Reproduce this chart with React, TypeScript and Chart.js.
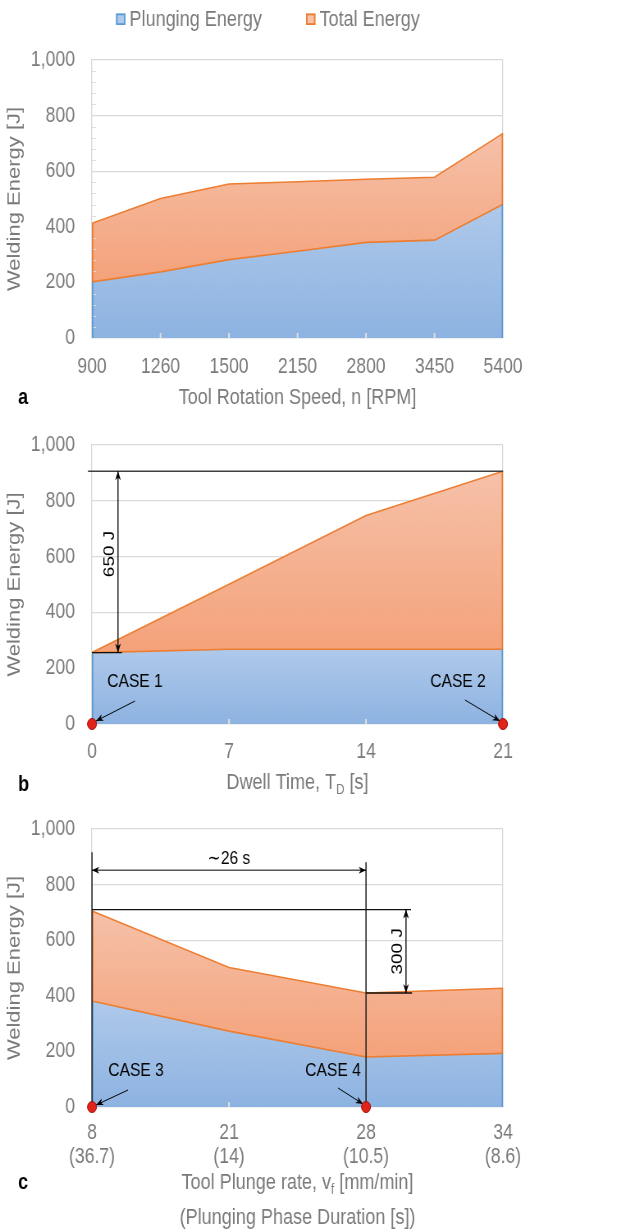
import { useEffect, useRef } from 'react';
import { Chart, registerables } from 'chart.js';

Chart.register(...registerables);

// (a) welding energy against tool rotation speed
const rotationSpeeds = ['900', '1260', '1500', '2150', '2800', '3450', '5400'];
const plungingEnergyA = [202, 238, 282, 312, 344, 352, 481];
const totalEnergyA = [413, 502, 554, 562, 571, 578, 736];

// (b) welding energy against dwell time
const dwellTimes = ['0', '7', '14', '21'];
const plungingEnergyB = [256, 268, 268, 268];
const totalEnergyB = [256, 501, 747, 906];
const caseMarkersB = [0, null, null, 0];

// (c) welding energy against tool plunge rate
const plungeRates = ['8', '21', '28', '34'];
const phaseDurations = ['(36.7)', '(14)', '(10.5)', '(8.6)'];
const plungingEnergyC = [381, 273, 180, 193];
const totalEnergyC = [705, 502, 410, 427];
const caseMarkersC = [0, null, 0, null];

// energy axis and dimension labels
const energyMin = 0;
const energyMax = 1000;
const energyStep = 200;
const energyMinorStep = 40;
const dwellEnergyGap = 650;
const plungeEnergyGap = 300;
const plungeDurationGap = '∼26 s';

const seriesNames = ['Plunging Energy', 'Total Energy'];

const BLUE_EDGE = '#5B9BD5';
const ORANGE_EDGE = '#ED7D31';
const BLUE_LIGHT = '#AFC9EA';
const BLUE_DARK = '#8DB3E1';
const ORANGE_LIGHT = '#F6C1A9';
const ORANGE_DARK = '#F4A27A';
const GRID = '#d9d9d9';
const TEXT_GRAY = '#7a7a7a';
const SANS = '"Liberation Sans", Arial, sans-serif';

// The figure is laid out on a wider canvas and condensed horizontally,
// which gives the narrow lettering of the printed figure.
const PAGE_W = 644;
const CANVAS_W = 785;
const SQUEEZE = PAGE_W / CANVAS_W;
const sx = (v: number) => v / SQUEEZE;

const PLOT_LEFT = sx(92);
const PLOT_RIGHT = sx(503);

type Seg = { t: string; sub?: boolean };

function drawText(
  ctx: CanvasRenderingContext2D,
  s: string,
  x: number,
  y: number,
  font: string,
  color: string,
  align: CanvasTextAlign = 'center',
  rotate = 0
) {
  ctx.save();
  ctx.translate(x, y);
  ctx.rotate(rotate);
  ctx.font = font;
  ctx.fillStyle = color;
  ctx.textAlign = align;
  ctx.textBaseline = 'middle';
  ctx.fillText(s, 0, 0);
  ctx.restore();
}

function drawRich(ctx: CanvasRenderingContext2D, segs: Seg[], cx: number, cy: number, size: number, color: string) {
  ctx.save();
  ctx.fillStyle = color;
  ctx.textBaseline = 'middle';
  ctx.textAlign = 'left';
  const fontOf = (s: Seg) => `${s.sub ? Math.round(size * 0.62) : size}px ${SANS}`;
  const widths = segs.map((s) => {
    ctx.font = fontOf(s);
    return ctx.measureText(s.t).width;
  });
  let x = cx - widths.reduce((a, b) => a + b, 0) / 2;
  segs.forEach((s, i) => {
    ctx.font = fontOf(s);
    ctx.fillText(s.t, x, cy + (s.sub ? size * 0.32 : 0));
    x += widths[i];
  });
  ctx.restore();
}

function drawLine(ctx: CanvasRenderingContext2D, x1: number, y1: number, x2: number, y2: number, color = '#000', w = 1) {
  ctx.save();
  ctx.strokeStyle = color;
  ctx.lineWidth = w;
  ctx.beginPath();
  ctx.moveTo(x1, y1);
  ctx.lineTo(x2, y2);
  ctx.stroke();
  ctx.restore();
}

function drawHead(ctx: CanvasRenderingContext2D, fx: number, fy: number, tx: number, ty: number) {
  const ang = Math.atan2(ty - fy, tx - fx);
  const len = 9;
  const half = 3.5;
  ctx.save();
  ctx.translate(tx, ty);
  ctx.rotate(ang);
  ctx.fillStyle = '#000';
  ctx.beginPath();
  ctx.moveTo(0, 0);
  ctx.lineTo(-len, -half);
  ctx.lineTo(-len * 0.7, 0);
  ctx.lineTo(-len, half);
  ctx.closePath();
  ctx.fill();
  ctx.restore();
}

function drawArrow(ctx: CanvasRenderingContext2D, x1: number, y1: number, x2: number, y2: number, both = false) {
  const vertical = Math.abs(x2 - x1) < 0.5;
  drawLine(ctx, x1, y1, x2, y2, '#000', vertical ? 1.3 : 1);
  drawHead(ctx, x1, y1, x2, y2);
  if (both) drawHead(ctx, x2, y2, x1, y1);
}

// vertical gradient spanning the band that a series fills
function bandFill(kind: 'plunging' | 'total') {
  return (c: any) => {
    const chart = c.chart;
    const y = chart.scales?.y;
    if (!chart.chartArea || !y) return kind === 'plunging' ? BLUE_DARK : ORANGE_DARK;
    const ds = chart.data.datasets;
    const plunging = ds[0].data as number[];
    const total = ds[1].data as number[];
    const hi = kind === 'plunging' ? Math.max(...plunging) : Math.max(...total);
    const lo = kind === 'plunging' ? 0 : Math.min(...plunging);
    const g = chart.ctx.createLinearGradient(0, y.getPixelForValue(hi), 0, y.getPixelForValue(lo));
    g.addColorStop(0, kind === 'plunging' ? BLUE_LIGHT : ORANGE_LIGHT);
    g.addColorStop(1, kind === 'plunging' ? BLUE_DARK : ORANGE_DARK);
    return g;
  };
}

type Panel = {
  labels: (string | string[])[];
  plunging: number[];
  total: number[];
  cases?: (number | null)[];
  height: number;
  plotTop: number;
  plotBottom: number;
  tickPadding: number;
  tickLineHeight?: number;
  letter: string;
  letterY: number;
  xTitle: Seg[];
  xTitleY: number;
  xTitle2?: string;
  xTitle2Y?: number;
  legend?: boolean;
  minorTicks?: boolean;
  annotate?: (chart: any) => void;
};

function drawDetails(chart: any, panel: Panel) {
  const { ctx, chartArea: a, scales } = chart;
  const x = scales.x;
  const y = scales.y;
  const n = chart.data.labels.length;
  ctx.save();
  // small inside tick marks on the category axis
  for (let i = 1; i < n - 1; i++) {
    const px = x.getPixelForValue(i);
    drawLine(ctx, px, a.bottom, px, a.bottom - 5, '#dedede', 2);
  }
  // minor tick marks on the energy axis
  if (panel.minorTicks) {
    for (let v = energyMin + energyMinorStep; v < energyMax; v += energyMinorStep) {
      if (v % energyStep === 0) continue;
      const py = Math.round(y.getPixelForValue(v)) + 0.5;
      drawLine(ctx, a.left, py, a.left + sx(4), py, '#dedede', 1);
    }
  }
  // outline of each band at both ends of the range
  const p = chart.data.datasets[0].data as number[];
  const t = chart.data.datasets[1].data as number[];
  for (const i of [0, n - 1]) {
    const px = x.getPixelForValue(i) + (i === 0 ? 0.8 : -0.8);
    drawLine(ctx, px, y.getPixelForValue(0), px, y.getPixelForValue(p[i]), BLUE_EDGE, 1.8);
    if (t[i] > p[i]) drawLine(ctx, px, y.getPixelForValue(p[i]), px, y.getPixelForValue(t[i]), ORANGE_EDGE, 1.8);
  }
  if (panel.annotate) panel.annotate(chart);
  ctx.restore();
}

function drawFurniture(chart: any, panel: Panel) {
  const { ctx, chartArea: a } = chart;
  const cx = (a.left + a.right) / 2;
  drawRich(ctx, panel.xTitle, cx, panel.xTitleY, 22, TEXT_GRAY);
  if (panel.xTitle2 && panel.xTitle2Y) drawRich(ctx, [{ t: panel.xTitle2 }], cx, panel.xTitle2Y, 22, TEXT_GRAY);
  drawText(ctx, panel.letter, sx(18), panel.letterY, `bold 22px ${SANS}`, '#000', 'left');
  if (panel.legend) {
    const items = [
      { x: sx(116), fill: BLUE_LIGHT, edge: BLUE_EDGE },
      { x: sx(306), fill: ORANGE_LIGHT, edge: ORANGE_EDGE },
    ];
    items.forEach((it, i) => {
      ctx.save();
      ctx.fillStyle = it.fill;
      ctx.strokeStyle = it.edge;
      ctx.lineWidth = 1.8;
      ctx.fillRect(it.x, 13.5, 11.5, 11.5);
      ctx.strokeRect(it.x + 0.9, 14.4, 9.7, 9.7);
      ctx.restore();
      drawText(ctx, chart.data.datasets[i].label, it.x + sx(13.5), 20, `22px ${SANS}`, TEXT_GRAY, 'left');
    });
  }
}

function buildConfig(panel: Panel): any {
  const datasets: any[] = [
    {
      label: seriesNames[0],
      data: panel.plunging,
      borderColor: ORANGE_EDGE,
      borderWidth: 1.6,
      backgroundColor: bandFill('plunging'),
      fill: 'origin',
      pointRadius: 0,
      tension: 0,
    },
    {
      label: seriesNames[1],
      data: panel.total,
      borderColor: ORANGE_EDGE,
      borderWidth: 1.6,
      backgroundColor: bandFill('total'),
      fill: '-1',
      pointRadius: 0,
      tension: 0,
    },
  ];
  if (panel.cases) {
    datasets.push({
      label: 'Cases',
      data: panel.cases,
      showLine: false,
      fill: false,
      pointRadius: 5.5,
      pointBackgroundColor: '#e2231a',
      pointBorderColor: '#9c0f0a',
      pointBorderWidth: 1,
      clip: false,
      order: -1,
    });
  }
  const last = panel.labels.length - 1;
  const hasCases = !!panel.cases;
  const decor = {
    id: 'panelDecor',
    beforeDatasetDraw(chart: any, args: any) {
      if (hasCases && chart.data.datasets[args.index].label === 'Cases') drawDetails(chart, panel);
    },
    afterDatasetsDraw(chart: any) {
      if (!hasCases) drawDetails(chart, panel);
    },
    afterDraw(chart: any) {
      drawFurniture(chart, panel);
    },
  };
  return {
    type: 'line',
    data: { labels: panel.labels, datasets },
    plugins: [decor],
    options: {
      responsive: false,
      animation: false,
      devicePixelRatio: 1,
      events: [],
      layout: {
        autoPadding: false,
        padding: { left: 0, right: CANVAS_W - PLOT_RIGHT, top: panel.plotTop, bottom: 0 },
      },
      plugins: { legend: { display: false }, tooltip: { enabled: false } },
      scales: {
        x: {
          type: 'category',
          offset: false,
          grid: {
            display: true,
            drawTicks: false,
            lineWidth: 1.3,
            color: (c: any) => (c.index === last ? GRID : 'rgba(0,0,0,0)'),
          },
          border: { color: GRID, width: 1.3 },
          ticks: {
            autoSkip: false,
            maxRotation: 0,
            minRotation: 0,
            padding: panel.tickPadding,
            color: TEXT_GRAY,
            font: { family: SANS, size: 21.5, lineHeight: panel.tickLineHeight ?? 1.2 },
          },
          afterFit: (s: any) => {
            s.height = panel.height - panel.plotBottom;
          },
        },
        y: {
          min: energyMin,
          max: energyMax,
          grid: {
            color: GRID,
            lineWidth: 1.3,
            drawTicks: true,
            tickLength: sx(17),
            tickColor: 'rgba(0,0,0,0)',
          },
          border: { color: GRID, width: 1.3 },
          ticks: {
            stepSize: energyStep,
            padding: 0,
            color: TEXT_GRAY,
            font: { family: SANS, size: 21.5 },
          },
          title: {
            display: true,
            text: 'Welding Energy [J]',
            color: TEXT_GRAY,
            font: { family: SANS, size: 22 },
            padding: { top: 5, bottom: 0 },
          },
          afterFit: (s: any) => {
            s.width = PLOT_LEFT;
          },
        },
      },
    },
  };
}

const panelA: Panel = {
  labels: rotationSpeeds,
  plunging: plungingEnergyA,
  total: totalEnergyA,
  height: 420,
  plotTop: 60,
  plotBottom: 338,
  tickPadding: 16,
  letter: 'a',
  letterY: 398,
  xTitle: [{ t: 'Tool Rotation Speed, n [RPM]' }],
  xTitleY: 398,
  legend: true,
  minorTicks: true,
};

const panelB: Panel = {
  labels: dwellTimes,
  plunging: plungingEnergyB,
  total: totalEnergyB,
  cases: caseMarkersB,
  height: 380,
  plotTop: 25,
  plotBottom: 304,
  tickPadding: 15,
  letter: 'b',
  letterY: 365,
  xTitle: [{ t: 'Dwell Time, T' }, { t: 'D', sub: true }, { t: ' [s]' }],
  xTitleY: 363,
  annotate: (chart: any) => {
    const { ctx, scales } = chart;
    const x = scales.x;
    const y = scales.y;
    const x0 = x.getPixelForValue(0);
    const x3 = x.getPixelForValue(3);
    const y0 = y.getPixelForValue(0);
    const base = plungingEnergyB[0];
    const yBase = y.getPixelForValue(base);
    const yTop = y.getPixelForValue(base + dwellEnergyGap);
    drawLine(ctx, x0 - sx(4), yTop, x3, yTop, '#404040', 1.3);
    drawLine(ctx, x0, yBase, x0 + sx(30), yBase, '#111', 1.3);
    drawArrow(ctx, x0 + sx(26), yTop, x0 + sx(26), yBase, true);
    drawText(ctx, `${dwellEnergyGap} J`, x0 + sx(18), (yTop + yBase) / 2 - 8, `19px ${SANS}`, '#000', 'center', -Math.PI / 2);
    drawText(ctx, 'CASE 1', x0 + sx(43), y0 - 42, `19px ${SANS}`, '#000');
    drawArrow(ctx, x0 + sx(43), y0 - 23, x0 + sx(4), y0 - 3);
    drawText(ctx, 'CASE 2', x3 - sx(45), y0 - 42, `19px ${SANS}`, '#000');
    drawArrow(ctx, x3 - sx(38), y0 - 24, x3 - sx(3), y0 - 3);
  },
};

const panelC: Panel = {
  labels: plungeRates.map((r, i) => [r, phaseDurations[i]]),
  plunging: plungingEnergyC,
  total: totalEnergyC,
  cases: caseMarkersC,
  height: 430,
  plotTop: 29,
  plotBottom: 307,
  tickPadding: 14,
  tickLineHeight: 1.12,
  letter: 'c',
  letterY: 383,
  xTitle: [{ t: 'Tool Plunge rate, v' }, { t: 'f', sub: true }, { t: ' [mm/min]' }],
  xTitleY: 383,
  xTitle2: '(Plunging Phase Duration [s])',
  xTitle2Y: 418,
  annotate: (chart: any) => {
    const { ctx, scales } = chart;
    const x = scales.x;
    const y = scales.y;
    const x0 = x.getPixelForValue(0);
    const x2 = x.getPixelForValue(2);
    const y0 = y.getPixelForValue(0);
    const ySpan = y.getPixelForValue(852);
    drawLine(ctx, x0, ySpan - 18, x0, y0, '#222', 1.5);
    drawLine(ctx, x2, ySpan - 8, x2, y0, '#222', 1.5);
    drawArrow(ctx, x0, ySpan, x2, ySpan, true);
    drawText(ctx, plungeDurationGap, (x0 + x2) / 2, ySpan - 11, `19px ${SANS}`, '#000');
    const low = totalEnergyC[2];
    const yLo = y.getPixelForValue(low);
    const yHi = y.getPixelForValue(low + plungeEnergyGap);
    drawLine(ctx, x0, yHi, x2 + sx(45), yHi, '#111', 1.3);
    drawLine(ctx, x2, yLo, x2 + sx(46), yLo, '#111', 1.3);
    drawArrow(ctx, x2 + sx(40), yHi, x2 + sx(40), yLo, true);
    drawText(ctx, `${plungeEnergyGap} J`, x2 + sx(32), (yHi + yLo) / 2, `19px ${SANS}`, '#000', 'center', -Math.PI / 2);
    drawText(ctx, 'CASE 3', x0 + sx(44), y0 - 36, `19px ${SANS}`, '#000');
    drawArrow(ctx, x0 + sx(36), y0 - 17, x0 + sx(4), y0 - 2);
    drawText(ctx, 'CASE 4', x2 - sx(33), y0 - 36, `19px ${SANS}`, '#000');
    drawArrow(ctx, x2 - sx(28), y0 - 19, x2 - sx(3), y0 - 3);
  },
};

function PanelChart({ panel, top }: { panel: Panel; top: number }) {
  const ref = useRef<HTMLCanvasElement>(null);
  useEffect(() => {
    if (!ref.current) return;
    const chart = new Chart(ref.current, buildConfig(panel));
    return () => chart.destroy();
  }, [panel]);
  return (
    <canvas
      ref={ref}
      width={CANVAS_W}
      height={panel.height}
      style={{
        position: 'absolute',
        left: 0,
        top,
        transform: `scaleX(${SQUEEZE})`,
        transformOrigin: '0 0',
      }}
    />
  );
}

export default function App() {
  return (
    <div
      style={{
        position: 'absolute',
        left: 0,
        top: 0,
        width: PAGE_W,
        height: 1230,
        overflow: 'hidden',
        background: '#fff',
      }}
    >
      <PanelChart panel={panelA} top={0} />
      <PanelChart panel={panelB} top={420} />
      <PanelChart panel={panelC} top={800} />
    </div>
  );
}
